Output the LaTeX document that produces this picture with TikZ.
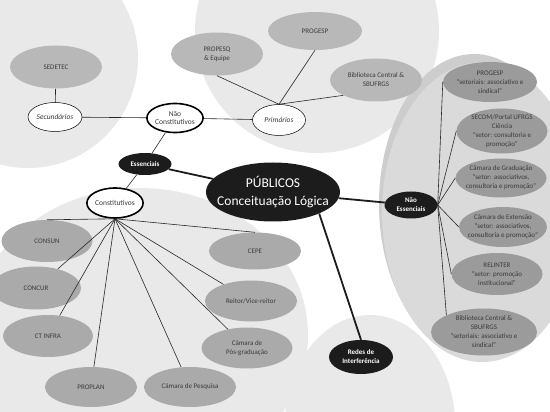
\documentclass[tikz,border=0pt]{standalone}
\usepackage{fontspec}
\setmainfont{Carlito}[Extension=.ttf, UprightFont=*-Regular, BoldFont=*-Bold, ItalicFont=*-Italic, BoldItalicFont=*-BoldItalic]
\usepackage{tikz}
\usetikzlibrary{shapes.geometric}
\definecolor{bg-circle}{RGB}{233,233,233}
\definecolor{bg-band}{RGB}{205,205,205}
\definecolor{bg-right}{RGB}{218,218,218}
\definecolor{color-top}{RGB}{184,184,184}
\definecolor{color-bottom}{RGB}{170,170,170}
\definecolor{color-right}{RGB}{155,155,155}
\definecolor{color-black}{RGB}{28,28,28}
\definecolor{color-text}{RGB}{58,58,58}
\definecolor{color-line}{RGB}{40,40,40}

\begin{document}
\begin{tikzpicture}[x=1pt, y=-1pt,
dims/.style args={#1x#2}{minimum width=#1, minimum height=#2},
ell/.style={ellipse, inner sep=0pt, label={[elltext]center:{#1}}},
elltext/.style={align=center, text=color-text, font=\fontsize{7}{9}\selectfont},
grtop/.style={ell={#1}, fill=color-top},
grbot/.style={ell={#1}, fill=color-bottom},
grright/.style={ell={#1}, fill=color-right},
wht/.style={ellipse, draw, fill=white, inner sep=0pt, line width=0.5pt, align=center, text=color-text, font=\fontsize{7.5}{8.5}\selectfont},
whtthick/.style={wht, line width=1.6pt},
blk/.style={ellipse, fill=color-black, inner sep=0pt, align=center, text=white, font=\bfseries\fontsize{7}{9}\selectfont},
pubtext/.style={align=center, text=white, font=\fontsize{13.5}{18}\selectfont},
link/.style={color-line, line width=0.6pt},
mainlink/.style={color-black, line width=1.8pt}]
\useasboundingbox (0,0) rectangle (550,412);
\clip (0,0) rectangle (550,412);

% background circles
\fill[bg-circle] (28,58) circle (110);
\fill[bg-circle] (317,31) circle (122);
\fill[bg-circle] (140,335) ellipse (168 and 147);
\fill[bg-circle] (370,425) ellipse (85 and 110);
\fill[bg-band] (474,204) ellipse (95 and 150);
\fill[bg-right] (482,212) ellipse (100 and 150);

% main nodes
\node [blk, dims=134x59, label={[pubtext]center:{PÚBLICOS\\Conceituação Lógica}}](pub) at (273,192) {};
\node [blk, dims=53x22](ess) at (145,164) {Essenciais};
\node [blk, dims=53x27](naoe) at (411,205) {Não\\Essenciais};
\node [blk, dims=64x34](redes) at (361,357) {Redes de\\Interferência};

% nao constitutivos
\node [whtthick, dims=53x29](naoc) at (175,118) {Não\\Constitutivos};
\node [wht, dims=54x29](sec) at (55,117) {\itshape Secundários};
\node [wht, dims=53x31](prim) at (279,120) {\itshape Primários};
\node [grtop={SEDETEC}, dims=92x43](sedetec) at (56,67) {};
\node [grtop={PROPESQ\\\& Equipe}, dims=92x43](propesq) at (217,54) {};
\node [grtop={PROGESP}, dims=94x38](progA) at (315,31) {};
\node [grtop={Biblioteca Central \&\\SBUFRGS}, dims=92x43](bibA) at (376,80) {};

% constitutivos
\node [whtthick, dims=54x30](const) at (115,203) {Constitutivos};
\node [grbot={CONSUN}, dims=91x42](consun) at (47,241) {};
\node [grbot={CONCUR}, dims=90x43](concur) at (36,288) {};
\node [grbot={CT INFRA}, dims=90x42](ctinfra) at (48,336) {};
\node [grbot={PROPLAN}, dims=92x40](proplan) at (91,387) {};
\node [grbot={Câmara de Pesquisa}, dims=92x40](pesq) at (190,387) {};
\node [grbot={Câmara de\\Pós-graduação}, dims=91x41](posg) at (247,348) {};
\node [grbot={Reitor/Vice-reitor}, dims=92x41](reitor) at (251,301) {};
\node [grbot={CEPE}, dims=92x37](cepe) at (255,251) {};

% nao essenciais
\node [grright={PROGESP\\``setoriais: associativo e\\sindical''}, dims=94x40](progB) at (490,82) {};
\node [grright={SECOM/Portal UFRGS\\Ciência\\``setor: consultoria e\\promoção''}, dims=91x45](secom) at (502,131) {};
\node [grright={Câmara de Graduação\\``setor: associativos,\\consultoria e promoção''}, dims=91x39](grad) at (501,178) {};
\node [grright={Câmara de Extensão\\``setor: associativos,\\consultoria e promoção''}, dims=88x40](ext) at (503,227) {};
\node [grright={RELINTER\\``setor: promoção\\institucional''}, dims=91x42](relinter) at (497,274) {};
\node [grright={Biblioteca Central \&\\SBUFRGS\\``setoriais: associativo e\\sindical''}, dims=106x47](bibB) at (484,332) {};

% thick links
\draw[mainlink] (ess) -- (pub);
\draw[mainlink] (pub) -- (naoe);
\draw[mainlink] (pub.-25) -- (redes.north);

% links nao constitutivos
\draw[link] (sedetec) -- (sec);
\draw[link] (sec) -- (naoc);
\draw[link] (naoc) -- (prim);
\draw[link] (naoc) -- (ess);
\draw[link] (prim.north) -- (propesq.south);
\draw[link] (prim.north) -- (progA.south);
\draw[link] (prim.north) -- (bibA.south west);

% links constitutivos
\draw[link] (ess) -- (const);
\draw[link] (const.south) -- (consun.north);
\draw[link] (const.south) -- (concur);
\draw[link] (const.south) -- (ctinfra);
\draw[link] (const.south) -- (proplan);
\draw[link] (const.south) -- (pesq);
\draw[link] (const.south) -- (posg);
\draw[link] (const.south) -- (reitor);
\draw[link] (const.south) -- (cepe.north);

% links nao essenciais
\draw[link] (naoe.east) -- (progB.west);
\draw[link] (naoe.east) -- (secom.west);
\draw[link] (naoe.east) -- (grad.west);
\draw[link] (naoe.east) -- (ext.west);
\draw[link] (naoe.east) -- (relinter.west);
\draw[link] (naoe.east) -- (bibB.north west);
\end{tikzpicture}
\end{document}
